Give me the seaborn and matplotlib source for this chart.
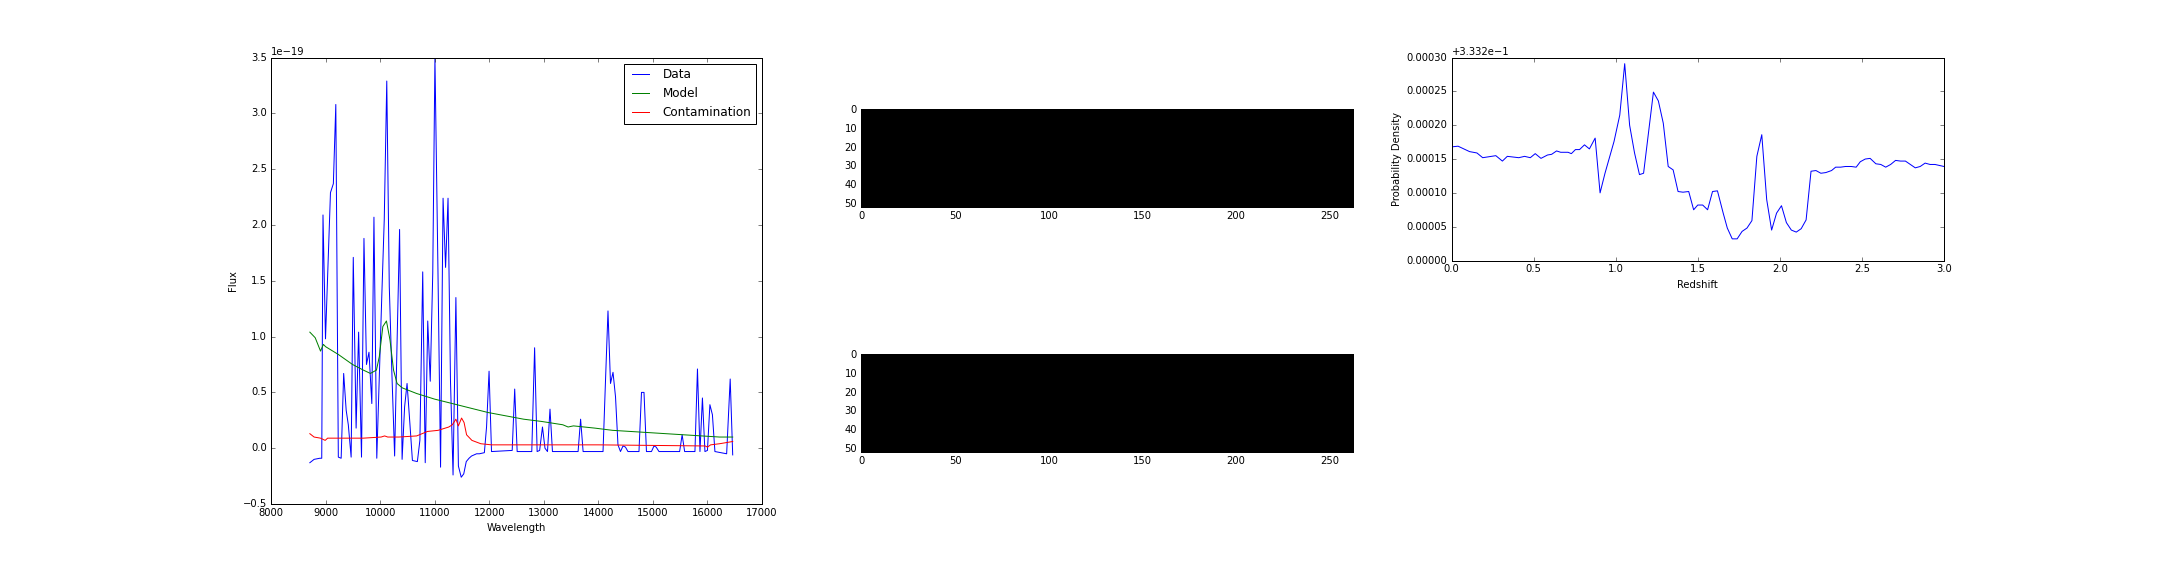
import numpy as np
import matplotlib
matplotlib.use("Agg")
import matplotlib.pyplot as plt
import seaborn as sns

# ---------------- data ----------------
FLUX_SCALE = 1e-19

wave_data = [8712, 8790, 8895, 8930, 8953, 8999, 9090, 9143, 9188, 9234, 9286, 9332, 9378,
             9417, 9469, 9508, 9560, 9606, 9659, 9704, 9750, 9796, 9848, 9887, 9939, 10030,
             10076, 10122, 10168, 10214, 10266, 10311, 10357, 10403, 10449, 10494, 10546,
             10592, 10683, 10729, 10781, 10827, 10873, 10919, 10965, 11005, 11060, 11108,
             11154, 11200, 11245, 11290, 11337, 11389, 11435, 11487, 11533, 11579, 11630,
             11676, 11722, 11768, 11820, 11911, 11951, 11997, 12042, 12421, 12467, 12512,
             12780, 12832, 12878, 12924, 12976, 13022, 13068, 13114, 13159, 13629, 13675,
             13721, 14086, 14131, 14177, 14223, 14269, 14315, 14360, 14406, 14452, 14497,
             14543, 14745, 14791, 14837, 14882, 14974, 15020, 15060, 15112, 15490, 15536,
             15582, 15771, 15817, 15863, 15908, 15954, 16000, 16045, 16091, 16137, 16352,
             16417, 16463]
flux_data = [-0.13, -0.10, -0.09, -0.09, 2.09, 0.98, 2.29, 2.37, 3.08, -0.08, -0.09, 0.67,
             0.34, 0.21, -0.08, 1.71, 0.18, 1.04, -0.08, 1.88, 0.75, 0.86, 0.40, 2.07, -0.09,
             1.35, 2.05, 3.29, 1.45, 0.70, -0.07, 0.95, 1.96, -0.10, 0.37, 0.58, 0.22, -0.11,
             -0.12, 0.07, 1.58, -0.13, 1.14, 0.60, 1.57, 3.50, 1.60, -0.17, 2.24, 1.62, 2.24,
             0.60, -0.24, 1.35, -0.16, -0.26, -0.23, -0.12, -0.09, -0.07, -0.06, -0.05, -0.05,
             -0.04, 0.19, 0.69, -0.03, -0.02, 0.53, -0.03, -0.03, 0.90, -0.03, -0.02, 0.19,
             0.00, -0.03, 0.35, -0.03, -0.03, 0.26, -0.03, -0.03, 0.60, 1.23, 0.58, 0.68, 0.46,
             0.03, -0.03, 0.02, 0.01, -0.03, -0.03, 0.50, 0.50, -0.03, -0.03, 0.02, 0.01, -0.03,
             -0.03, 0.12, -0.03, -0.03, 0.71, -0.03, 0.45, -0.03, -0.02, 0.39, 0.30, -0.03,
             -0.05, 0.62, -0.06]

wave_model = [8712, 8810, 8908, 8960, 9000, 9234, 9495, 9692, 9822, 9933, 9985, 10050,
              10116, 10181, 10246, 10311, 10409, 10670, 10997, 11324, 11650, 11977, 12303,
              12630, 12956, 13348, 13446, 13544, 13936, 14263, 14916, 15569, 16222, 16463]
flux_model = [1.04, 0.99, 0.87, 0.93, 0.91, 0.84, 0.75, 0.70, 0.67, 0.70, 0.82, 1.09,
              1.14, 0.97, 0.70, 0.58, 0.54, 0.49, 0.44, 0.40, 0.36, 0.32, 0.29, 0.26, 0.24,
              0.21, 0.19, 0.20, 0.18, 0.16, 0.14, 0.12, 0.10, 0.10]

wave_contam = [8712, 8790, 8908, 8993, 9038, 9692, 10018, 10083, 10140, 10344, 10670, 10867,
               11063, 11259, 11324, 11389, 11435, 11493, 11539, 11585, 11683, 11846, 12042,
               12303, 14000, 15960, 16000, 16058, 16222, 16463]
flux_contam = [0.13, 0.10, 0.09, 0.07, 0.09, 0.09, 0.10, 0.11, 0.10, 0.10, 0.11, 0.15,
               0.16, 0.19, 0.21, 0.26, 0.20, 0.27, 0.23, 0.12, 0.07, 0.04, 0.03, 0.03, 0.03,
               0.02, 0.01, 0.03, 0.04, 0.06]

redshift = [0.00, 0.04, 0.11, 0.155, 0.19, 0.27, 0.31, 0.34, 0.41, 0.445, 0.48, 0.51, 0.545,
            0.585, 0.61, 0.64, 0.665, 0.71, 0.73, 0.755, 0.78, 0.81, 0.84, 0.875, 0.905,
            0.935, 0.99, 1.025, 1.055, 1.085, 1.115, 1.145, 1.17, 1.23, 1.26, 1.29, 1.32,
            1.35, 1.38, 1.41, 1.445, 1.475, 1.50, 1.53, 1.56, 1.59, 1.62, 1.655, 1.68, 1.71,
            1.74, 1.77, 1.80, 1.83, 1.86, 1.89, 1.92, 1.95, 1.98, 2.01, 2.04, 2.07, 2.10,
            2.13, 2.16, 2.19, 2.22, 2.25, 2.28, 2.315, 2.34, 2.37, 2.40, 2.435, 2.465, 2.49,
            2.52, 2.55, 2.585, 2.615, 2.645, 2.675, 2.705, 2.735, 2.765, 2.795, 2.825, 2.855,
            2.885, 2.915, 2.945, 3.00]
prob_density = [0.333368, 0.333369, 0.333361, 0.333359, 0.333352, 0.333355, 0.333347,
                0.333354, 0.333352, 0.333354, 0.333352, 0.333358, 0.333351, 0.333356,
                0.333357, 0.333362, 0.333360, 0.333360, 0.333358, 0.333364, 0.333364,
                0.333371, 0.333365, 0.333381, 0.333300, 0.333329, 0.333376, 0.333415,
                0.333491, 0.333400, 0.333359, 0.333327, 0.333329, 0.333449, 0.333436,
                0.333403, 0.333339, 0.333334, 0.333302, 0.333301, 0.333302, 0.333275,
                0.333282, 0.333282, 0.333275, 0.333302, 0.333303, 0.333270, 0.333248,
                0.333232, 0.333232, 0.333243, 0.333248, 0.333259, 0.333354, 0.333386,
                0.333290, 0.333245, 0.333270, 0.333281, 0.333256, 0.333245, 0.333242,
                0.333247, 0.333260, 0.333332, 0.333333, 0.333329, 0.333330, 0.333333,
                0.333338, 0.333338, 0.333339, 0.333339, 0.333338, 0.333346, 0.333350,
                0.333351, 0.333343, 0.333342, 0.333338, 0.333342, 0.333348, 0.333347,
                0.333347, 0.333342, 0.333337, 0.333339, 0.333344, 0.333342, 0.333342,
                0.333339]

image_rows = 52
image_cols = 263
stamp_top = np.zeros((image_rows, image_cols))
stamp_bottom = np.zeros((image_rows, image_cols))

# ---------------- style ----------------
plt.style.use("classic")
plt.rcParams.update({
    "font.size": 10,
    "font.family": ["DejaVu Sans"],
    "figure.facecolor": "white",
    "savefig.facecolor": "white",
    "legend.fontsize": 12,
    "lines.linewidth": 1.0,
})

fig = plt.figure(figsize=(30, 8), dpi=72)
W, H = 2160.0, 576.0

# ---------------- left: spectrum ----------------
ax1 = fig.add_axes([271 / W, 1 - 504 / H, (762 - 271) / W, (504 - 57.6) / H])
sns.lineplot(x=wave_data, y=np.array(flux_data) * FLUX_SCALE, ax=ax1, color="b",
             label="Data", lw=1.0)
sns.lineplot(x=wave_model, y=np.array(flux_model) * FLUX_SCALE, ax=ax1, color="g",
             label="Model", lw=1.0)
sns.lineplot(x=wave_contam, y=np.array(flux_contam) * FLUX_SCALE, ax=ax1, color="r",
             label="Contamination", lw=1.0)
ax1.set_xlim(8000, 17000)
ax1.set_ylim(-0.5e-19, 3.5e-19)
ax1.set_xlabel("Wavelength")
ax1.set_ylabel("Flux")
ax1.legend(loc="upper right", fontsize=12, fancybox=False, framealpha=1)

# ---------------- middle: 2D stamps ----------------
ax2 = fig.add_axes([861 / W, 1 - 207 / H, (1353 - 861) / W, (207 - 109) / H])
ax2.imshow(stamp_top, cmap="gray", interpolation="nearest", aspect="auto")
ax3 = fig.add_axes([861 / W, 1 - 452 / H, (1353 - 861) / W, (452 - 354) / H])
ax3.imshow(stamp_bottom, cmap="gray", interpolation="nearest", aspect="auto")
for a in (ax2, ax3):
    a.set_xticks([0, 50, 100, 150, 200, 250])
    a.set_yticks([0, 10, 20, 30, 40, 50])

# ---------------- right: redshift PDF ----------------
ax4 = fig.add_axes([1451.5 / W, 1 - 260.5 / H, (1944 - 1451.5) / W, (260.5 - 57.6) / H])
sns.lineplot(x=redshift, y=prob_density, ax=ax4, color="b", lw=1.0)
ax4.set_xlim(0.0, 3.0)
ax4.set_ylim(0.3332, 0.3335)
ax4.ticklabel_format(axis="y", useOffset=0.3332, style="plain")
ax4.set_yticks([0.3332, 0.33325, 0.3333, 0.33335, 0.3334, 0.33345, 0.3335])
ax4.set_xlabel("Redshift")
ax4.set_ylabel("Probability Density")

fig.savefig("out.png", dpi=72)
